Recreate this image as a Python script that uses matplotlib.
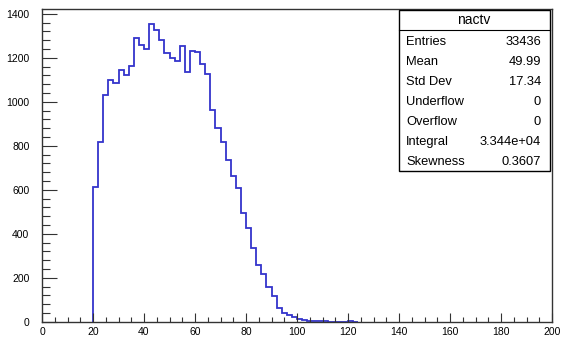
import numpy as np
import matplotlib
matplotlib.use("Agg")
import matplotlib.pyplot as plt
from matplotlib.patches import Rectangle
from matplotlib.ticker import MultipleLocator

plt.rcParams['font.family'] = ['Liberation Sans', 'DejaVu Sans']

# histogram "nactv": 2-wide bins starting at 20
bin_start = 20
bin_width = 2
counts = [612, 818, 1030, 1099, 1087, 1144, 1121, 1164, 1288, 1258,
          1240, 1352, 1327, 1279, 1223, 1200, 1186, 1253, 1136, 1232,
          1227, 1170, 1126, 962, 881, 818, 735, 662, 608, 492,
          424, 336, 260, 218, 160, 119, 61, 38, 30, 21,
          12, 8, 5, 4, 3, 3, 0, 0, 0, 0,
          2, 0]

# stats box
stat_title = "nactv"
stat_names = ["Entries", "Mean", "Std Dev", "Underflow", "Overflow", "Integral", "Skewness"]
stat_values = ["33436", "49.99", "17.34", "0", "0", "3.344e+04", "0.3607"]

W, H = 566, 338
fig = plt.figure(figsize=(W / 100, H / 100), dpi=100)
ax = fig.add_axes([42 / W, (H - 321.7) / H, 510 / W, (321.7 - 9.3) / H])

edges = bin_start + bin_width * np.arange(len(counts) + 1)
ax.stairs(counts, edges, color='#3434cc', lw=1.3, baseline=0)

ax.set_xlim(0, 200)
ax.set_ylim(0, 1420)
ax.xaxis.set_major_locator(MultipleLocator(20))
ax.xaxis.set_minor_locator(MultipleLocator(5))
ax.yaxis.set_major_locator(MultipleLocator(200))
ax.yaxis.set_minor_locator(MultipleLocator(40))

ax.tick_params(axis='x', which='major', direction='in', length=6.8, width=0.8,
               labelsize=7.5, pad=3.5, color='#333333')
ax.tick_params(axis='x', which='minor', direction='in', length=3.4, width=0.8, color='#333333')
ax.tick_params(axis='y', which='major', direction='in', length=11, width=0.8,
               labelsize=7.5, pad=9, color='#333333')
ax.tick_params(axis='y', which='minor', direction='in', length=5.5, width=0.8, color='#333333')
for s in ax.spines.values():
    s.set_linewidth(1.0)
    s.set_color('#333333')

# stats box drawn in figure pixels
def fx(px):
    return px / W

def fy(py):
    return 1 - py / H

box = Rectangle((fx(399), fy(171)), fx(550) - fx(399), fy(10) - fy(171),
                transform=fig.transFigure, facecolor='white', edgecolor='black',
                lw=1.0, zorder=5)
fig.patches.append(box)
fig.add_artist(plt.Line2D([fx(399), fx(550)], [fy(29.5), fy(29.5)],
                          transform=fig.transFigure, color='black', lw=0.8, zorder=6))
fig.text(fx(474), fy(20), stat_title, ha='center', va='center', fontsize=10, zorder=7)
for i, (name, val) in enumerate(zip(stat_names, stat_values)):
    y = fy(41.7 + i * 20)
    fig.text(fx(406), y, name, ha='left', va='center', fontsize=9.3, zorder=7)
    fig.text(fx(541), y, val, ha='right', va='center', fontsize=9.3, zorder=7)

fig.savefig("out.png", dpi=100)
